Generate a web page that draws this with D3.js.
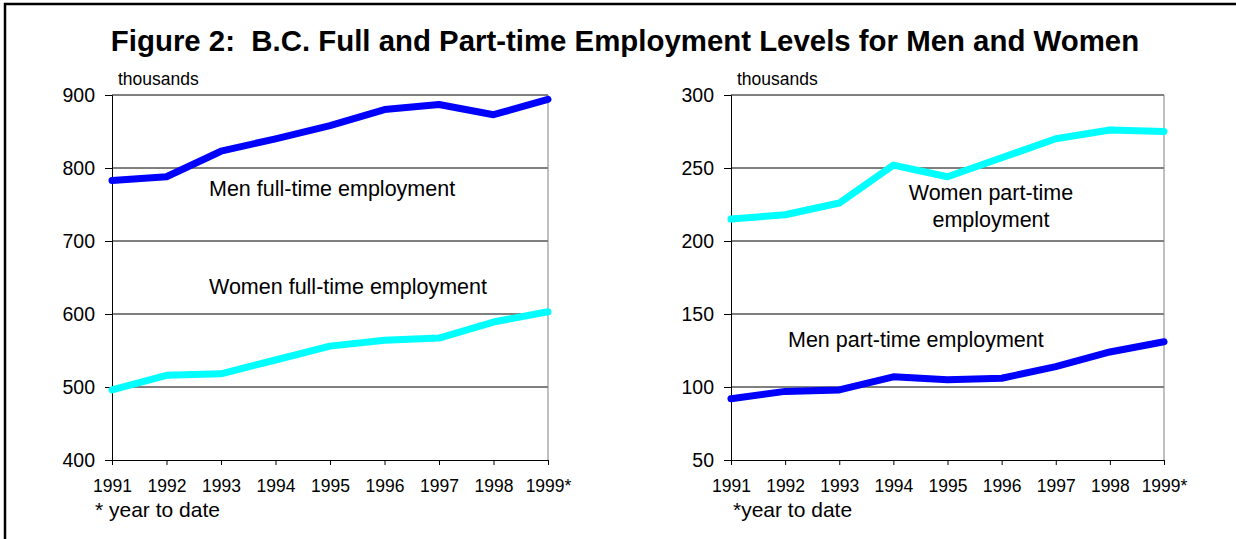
<!DOCTYPE html>
<html>
<head>
<meta charset="utf-8">
<script src="https://cdn.jsdelivr.net/npm/d3@7"></script>
<style>
  html, body { margin: 0; padding: 0; background: #fff; }
  svg { display: block; }
  text { font-family: Arial, "Liberation Sans", Helvetica, sans-serif; fill: #000; }
</style>
</head>
<body>
<svg id="chart" width="1236" height="539"></svg>
<script>
// Years on the x axis (1999 is year to date)
const years = ["1991", "1992", "1993", "1994", "1995", "1996", "1997", "1998", "1999*"];

// Full-time employment, thousands
const menFullTime   = [783, 788, 823, 840, 858, 880, 887, 873, 894];
const womenFullTime = [496, 516, 518, 537, 556, 564, 567, 589, 603];

// Part-time employment, thousands
const womenPartTime = [215, 218, 226, 252, 244, 257, 270, 276, 275];
const menPartTime   = [92, 97, 98, 107, 105, 106, 114, 124, 131];

// Axis ticks
const fullTimeTicks = [400, 500, 600, 700, 800, 900];
const partTimeTicks = [50, 100, 150, 200, 250, 300];

const titleText = "Figure 2:  B.C. Full and Part-time Employment Levels for Men and Women";

const MEN = "#0000ff";
const WOMEN = "#00ffff";

const svg = d3.select("#chart");

// Outer frame (runs off the right and bottom edges)
svg.append("rect")
  .attr("x", 5).attr("y", 4)
  .attr("width", 1400).attr("height", 700)
  .attr("fill", "none").attr("stroke", "#000").attr("stroke-width", 2.5);

svg.append("text")
  .attr("x", 625).attr("y", 51)
  .attr("text-anchor", "middle")
  .attr("font-size", 29.4).attr("font-weight", "bold")
  .style("white-space", "pre")
  .attr("xml:space", "preserve")
  .text(titleText);

function panel(opts) {
  const g = svg.append("g");
  const x = d3.scalePoint().domain(years).range([opts.x0, opts.x1]);
  const y = d3.scaleLinear().domain(opts.domain).range([opts.y1, opts.y0]);

  // horizontal gridlines
  g.append("g")
    .selectAll("line").data(opts.ticks.slice(1)).join("line")
    .attr("x1", opts.x0).attr("x2", opts.x1)
    .attr("y1", d => y(d)).attr("y2", d => y(d))
    .attr("stroke", "#000").attr("stroke-width", 1);

  // plot area right edge
  g.append("line")
    .attr("x1", opts.x1).attr("x2", opts.x1)
    .attr("y1", opts.y0).attr("y2", opts.y1)
    .attr("stroke", "#808080").attr("stroke-width", 1);

  // y axis
  const yAxis = g.append("g")
    .attr("transform", `translate(${opts.x0},0)`)
    .call(d3.axisLeft(y).tickValues(opts.ticks).tickSize(7).tickPadding(10).tickFormat(d3.format("d")));
  yAxis.select(".domain").attr("stroke", "#000");
  yAxis.selectAll(".tick line").attr("stroke", "#000");
  yAxis.selectAll(".tick text")
    .attr("font-size", 19.5).attr("font-family", null).attr("fill", "#000");

  // x axis
  const xAxis = g.append("g")
    .attr("transform", `translate(0,${opts.y1})`)
    .call(d3.axisBottom(x).tickSize(5).tickPadding(15).tickSizeOuter(0));
  xAxis.select(".domain").attr("stroke", "#000");
  xAxis.selectAll(".tick line").attr("stroke", "#000");
  xAxis.selectAll(".tick text")
    .attr("font-size", 17.5).attr("font-family", null).attr("fill", "#000");

  // unit label
  g.append("text")
    .attr("x", opts.x0 + 6).attr("y", 85)
    .attr("font-size", 17.5)
    .text("thousands");

  // footnote
  g.append("text")
    .attr("x", opts.noteX).attr("y", 517)
    .attr("font-size", 21)
    .text(opts.note);

  // series lines
  const line = d3.line().x((d, i) => x(years[i])).y(d => y(d));
  opts.series.forEach(s => {
    g.append("path")
      .datum(s.values)
      .attr("d", line)
      .attr("fill", "none")
      .attr("stroke", s.color)
      .attr("stroke-width", 7)
      .attr("stroke-linejoin", "round")
      .attr("stroke-linecap", "round");
  });

  // series labels
  opts.labels.forEach(l => {
    const t = g.append("text")
      .attr("x", l.x).attr("y", l.y)
      .attr("font-size", 21.5)
      .attr("text-anchor", l.anchor);
    l.lines.forEach((s, i) => {
      t.append("tspan").attr("x", l.x).attr("dy", i === 0 ? 0 : 27).text(s);
    });
  });
}

panel({
  x0: 112, x1: 548, y0: 95, y1: 460,
  domain: [400, 900], ticks: fullTimeTicks,
  noteX: 95, note: "* year to date",
  series: [
    { values: menFullTime, color: MEN },
    { values: womenFullTime, color: WOMEN }
  ],
  labels: [
    { x: 209, y: 196, anchor: "start", lines: ["Men full-time employment"] },
    { x: 209, y: 294, anchor: "start", lines: ["Women full-time employment"] }
  ]
});

panel({
  x0: 731, x1: 1164, y0: 95, y1: 460,
  domain: [50, 300], ticks: partTimeTicks,
  noteX: 733, note: "*year to date",
  series: [
    { values: womenPartTime, color: WOMEN },
    { values: menPartTime, color: MEN }
  ],
  labels: [
    { x: 991, y: 200, anchor: "middle", lines: ["Women part-time", "employment"] },
    { x: 788, y: 347, anchor: "start", lines: ["Men part-time employment"] }
  ]
});
</script>
</body>
</html>
